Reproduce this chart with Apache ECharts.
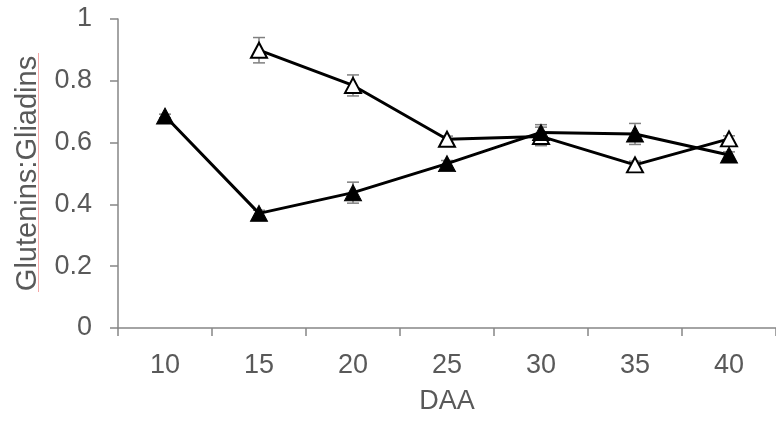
<!DOCTYPE html>
<html>
<head>
<meta charset="utf-8">
<script src="https://cdn.jsdelivr.net/npm/echarts@6/dist/echarts.min.js"></script>
<style>html,body{margin:0;padding:0;background:#fff;}#c{width:776px;height:423px;}</style>
</head>
<body>
<div id="c"></div>
<script>
var categories = ['10', '15', '20', '25', '30', '35', '40'];
var filledValues = [0.686, 0.371, 0.438, 0.532, 0.633, 0.628, 0.560];
var filledErrors = [0.006, 0.010, 0.034, 0.010, 0.025, 0.034, 0.010];
var openValues = [null, 0.899, 0.785, 0.611, 0.620, 0.528, 0.612];
var openErrors = [null, 0.041, 0.034, 0.010, 0.030, 0.012, 0.010];
var yTicks = [0, 0.2, 0.4, 0.6, 0.8, 1];

function errData(vals, errs) {
  var out = [];
  for (var i = 0; i < vals.length; i++) {
    if (vals[i] == null) continue;
    out.push([i, vals[i] - errs[i], vals[i] + errs[i]]);
  }
  return out;
}

function renderErr(params, api) {
  var x = api.value(0);
  var lo = api.coord([x, api.value(1)]);
  var hi = api.coord([x, api.value(2)]);
  var hw = 6;
  var st = { stroke: '#808080', lineWidth: 1.5 };
  return {
    type: 'group',
    children: [
      { type: 'line', shape: { x1: lo[0], y1: lo[1], x2: hi[0], y2: hi[1] }, style: st },
      { type: 'line', shape: { x1: lo[0] - hw, y1: lo[1], x2: lo[0] + hw, y2: lo[1] }, style: st },
      { type: 'line', shape: { x1: hi[0] - hw, y1: hi[1], x2: hi[0] + hw, y2: hi[1] }, style: st }
    ]
  };
}

var font = 'Liberation Sans, Arial, sans-serif';
var chart = echarts.init(document.getElementById('c'), null, { renderer: 'canvas' });
chart.setOption({
  animation: false,
  backgroundColor: '#ffffff',
  grid: { left: 118, top: 19, width: 660, height: 309 },
  xAxis: {
    type: 'category',
    data: categories,
    boundaryGap: true,
    name: 'DAA',
    nameLocation: 'middle',
    nameGap: 60,
    nameTextStyle: { color: '#595959', fontSize: 27, fontFamily: font },
    axisLine: { lineStyle: { color: '#868686', width: 1.5 } },
    axisTick: { show: true, length: 8, alignWithLabel: false, lineStyle: { color: '#868686', width: 1.5 } },
    axisLabel: { color: '#595959', fontSize: 27, fontFamily: font, margin: 24 },
    splitLine: { show: false }
  },
  yAxis: {
    type: 'value',
    min: yTicks[0],
    max: yTicks[yTicks.length - 1],
    interval: 0.2,
    name: 'Glutenins:Gliadins',
    nameLocation: 'middle',
    nameGap: 76,
    nameTextStyle: { color: '#595959', fontSize: 29, fontFamily: font },
    axisLine: { show: true, lineStyle: { color: '#868686', width: 1.5 } },
    axisTick: { show: true, length: 8, lineStyle: { color: '#868686', width: 1.5 } },
    axisLabel: { color: '#595959', fontSize: 27, fontFamily: font, margin: 26 },
    splitLine: { show: false }
  },
  graphic: [{
    type: 'line',
    shape: { x1: 38.5, y1: 53, x2: 38.5, y2: 292 },
    style: { stroke: '#f4a6a6', lineWidth: 1 },
    silent: true
  }],
  series: [
    {
      type: 'custom',
      renderItem: renderErr,
      data: errData(openValues, openErrors),
      z: 1
    },
    {
      type: 'line',
      data: openValues,
      symbol: 'triangle',
      symbolSize: [16, 15],
      connectNulls: false,
      lineStyle: { color: '#000', width: 3 },
      itemStyle: { color: '#fff', borderColor: '#000', borderWidth: 2 },
      z: 3
    },
    {
      type: 'custom',
      renderItem: renderErr,
      data: errData(filledValues, filledErrors),
      z: 4
    },
    {
      type: 'line',
      data: filledValues,
      symbol: 'triangle',
      symbolSize: [17, 16],
      lineStyle: { color: '#000', width: 3 },
      itemStyle: { color: '#000', borderColor: '#000', borderWidth: 1 },
      z: 5
    }
  ]
});
</script>
</body>
</html>
